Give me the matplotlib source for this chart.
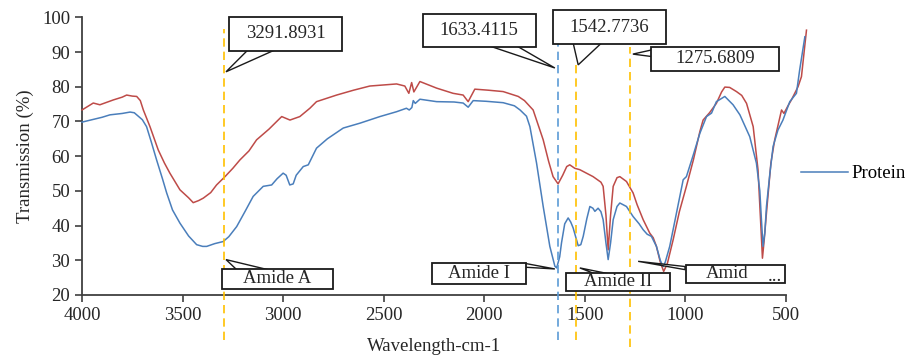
import matplotlib
matplotlib.use("Agg")
import matplotlib.pyplot as plt
from matplotlib.patches import Rectangle, Polygon

# FTIR spectra: wavenumber (cm-1) vs transmission (%)
protein_wn = [4000, 3950, 3900, 3861, 3800, 3761, 3740, 3728, 3700, 3679, 3655, 3629, 3600,
              3579, 3550, 3513, 3470, 3430, 3400, 3380, 3340, 3298, 3270, 3231, 3190, 3149,
              3099, 3057, 3030, 3000, 2985, 2967, 2950, 2935, 2900, 2875, 2834, 2780, 2701,
              2618, 2519, 2436, 2387, 2373, 2360, 2353, 2343, 2320, 2237, 2150, 2105, 2080,
              2055, 1990, 1906, 1850, 1822, 1790, 1773, 1740, 1707, 1674, 1649, 1640, 1625,
              1616, 1600, 1583, 1570, 1558, 1533, 1520, 1508, 1490, 1475, 1460, 1450, 1434,
              1420, 1409, 1395, 1384, 1372, 1359, 1340, 1326, 1293, 1260, 1230, 1210, 1190,
              1169, 1144, 1125, 1111, 1100, 1078, 1050, 1011, 995, 960, 928, 895, 870, 846,
              804, 763, 729, 680, 647, 630, 622, 614, 605, 597, 580, 564, 540, 515, 481, 448,
              432, 406]
protein_t = [69.8, 70.5, 71.2, 71.9, 72.3, 72.7, 72.5, 71.9, 70.5, 68.5, 64.0, 58.9, 53.5,
             49.4, 44.5, 40.7, 37.0, 34.5, 34.0, 34.0, 34.8, 35.4, 36.8, 39.7, 44.0, 48.4,
             51.3, 51.7, 53.5, 55.1, 54.5, 51.7, 52.0, 54.5, 57.0, 57.5, 62.3, 65.0, 68.1,
             69.5, 71.4, 72.8, 73.8, 73.3, 74.0, 76.0, 75.2, 76.4, 75.7, 75.6, 75.3, 74.1,
             76.0, 75.8, 75.4, 74.5, 73.3, 71.5, 68.5, 58.0, 45.5, 34.0, 28.3, 27.8, 31.0,
             35.0, 40.5, 42.2, 41.0, 39.3, 34.2, 34.5, 36.9, 42.0, 45.5, 45.0, 44.1, 45.0,
             44.0, 41.7, 35.0, 30.2, 35.0, 41.7, 45.5, 46.5, 45.5, 42.6, 40.5, 38.8, 37.5,
             36.9, 34.0, 30.0, 28.2, 29.5, 34.0, 42.0, 53.2, 54.1, 60.5, 66.6, 71.4, 72.4, 75.7,
             77.2, 74.8, 71.9, 65.6, 58.0, 50.0, 41.7, 34.0, 38.0, 45.5, 55.0, 62.8, 67.5, 70.4,
             75.7, 78.1, 84.8, 94.4]

sample_wn = [4000, 3944, 3911, 3844, 3800, 3778, 3750, 3728, 3710, 3695, 3662, 3621, 3590,
             3563, 3513, 3470, 3447, 3420, 3397, 3360, 3331, 3289, 3250, 3215, 3170, 3132,
             3070, 3016, 3007, 2966, 2917, 2867, 2834, 2734, 2650, 2569, 2436, 2395, 2375,
             2361, 2350, 2320, 2237, 2155, 2105, 2080, 2047, 1980, 1906, 1831, 1800, 1757,
             1707, 1680, 1658, 1633, 1610, 1590, 1575, 1550, 1525, 1459, 1420, 1409, 1395,
             1384, 1372, 1359, 1340, 1326, 1293, 1260, 1240, 1210, 1177, 1160, 1144, 1125,
             1108, 1090, 1061, 1030, 995, 960, 928, 912, 880, 846, 820, 804, 780, 746, 720,
             696, 663, 639, 625, 617, 608, 597, 575, 556, 522, 510, 490, 473, 440, 423, 398]
sample_t = [73.3, 75.3, 74.8, 76.2, 77.0, 77.6, 77.3, 77.2, 76.0, 73.3, 68.5, 61.8, 58.0,
            55.1, 50.3, 48.0, 46.6, 47.2, 47.9, 49.5, 51.7, 54.1, 56.5, 58.9, 61.5, 64.7,
            67.8, 70.9, 71.4, 70.4, 71.4, 73.8, 75.7, 77.6, 79.0, 80.2, 80.8, 80.2, 78.1,
            81.2, 78.5, 81.5, 79.6, 78.1, 77.6, 75.7, 79.3, 79.0, 78.6, 77.2, 76.0, 73.3,
            64.7, 58.5, 54.1, 52.0, 54.5, 57.0, 57.5, 56.5, 56.1, 54.1, 52.5, 51.3, 43.0,
            33.0, 43.0, 51.3, 53.8, 54.1, 52.7, 49.4, 46.0, 41.7, 37.8, 36.5, 34.0, 29.5,
            26.8, 29.0, 35.9, 44.0, 51.3, 59.0, 67.1, 70.4, 72.5, 75.2, 78.5, 79.9, 79.8,
            78.6, 77.5, 75.2, 68.5, 56.1, 40.0, 30.6, 36.0, 43.6, 58.0, 64.7, 73.3, 72.3,
            74.5, 76.2, 80.0, 82.9, 96.3]

# marked peaks: wavenumber, colour, dashed line extent (%)
peak_wn = [3291.8931, 1633.4115, 1542.7736, 1275.6809]
peak_color = ["#FFC000", "#5B9BD5", "#FFC000", "#FFC000"]
peak_top = [96.5, 94.0, 86.3, 91.5]
peak_bottom = [7.0, 7.0, 7.0, 4.9]

BLUE = "#4A7EBB"
RED = "#BE4B48"
FONT = "Liberation Serif"
FS = 13.5

plt.rcParams["font.family"] = [FONT, "DejaVu Serif"]

fig = plt.figure(figsize=(9.1, 3.59), dpi=100)
ax = fig.add_axes([0.0901, 0.1783, 0.7736, 0.7735])

ax.plot(sample_wn, sample_t, color=RED, lw=1.1, clip_on=False, zorder=3)
ax.plot(protein_wn, protein_t, color=BLUE, lw=1.1, clip_on=False, zorder=4, label="Protein")

for wn, c, top, bot in zip(peak_wn, peak_color, peak_top, peak_bottom):
    ax.plot([wn, wn], [bot, top], color=c, lw=1.2, ls=(0, (5, 3)), clip_on=False, zorder=5)

ax.set_xlim(4000, 500)
ax.set_ylim(20, 100)
ax.set_xticks([4000, 3500, 3000, 2500, 2000, 1500, 1000, 500])
ax.set_yticks(range(20, 101, 10))
ax.tick_params(labelsize=FS, direction="out", length=5, width=1.2, color="#404040",
               labelcolor="#262626")
for s in ["top", "right"]:
    ax.spines[s].set_visible(False)
for s in ["left", "bottom"]:
    ax.spines[s].set_color("#404040")
    ax.spines[s].set_linewidth(1.3)
ax.set_xlabel("Wavelength-cm-1", fontsize=FS, color="#262626")
ax.set_ylabel("Transmission (%)", fontsize=FS, color="#262626", labelpad=6)
ax.xaxis.set_label_coords(0.5, -0.155)

# Excel-style callouts: box (w_left, w_right, v_bottom, v_top), tip, two base points
callouts = [
    ("3291.8931", (3269, 2708, 90.3, 100.1), (3284, 84.3), [(3175, 90.6), (3041, 90.6)]),
    ("1633.4115", (2305, 1744, 91.5, 100.9), (1649, 85.4), [(1977, 91.8), (1840, 91.8)]),
    ("1542.7736", (1659, 1098, 92.3, 102.1), (1533, 86.3), [(1558, 92.6), (1417, 92.6)]),
    ("1275.6809", (1172, 536, 84.5, 91.5), (1261, 89.4), [(1168, 90.6), (1168, 88.7)]),
    ("Amide A", (3304, 2752, 21.8, 27.6), (3284, 30.2), [(3231, 27.3), (3076, 27.3)]),
    ("Amide I", (2260, 1793, 23.3, 29.3), (1649, 27.5), [(1797, 29.1), (1797, 28.0)]),
    ("Amide II", (1594, 1078, 21.2, 26.4), (1525, 27.8), [(1450, 26.1), (1380, 26.1)]),
    ("Amid", (998, 506, 23.5, 28.7), (1235, 29.7), [(1002, 28.2), (1002, 27.3)]),
]
for text, (w0, w1, v0, v1), tip, base in callouts:
    ax.add_patch(Polygon([tip] + base, closed=True, fc="white", ec="#1a1a1a", lw=1.0,
                         clip_on=False, zorder=6))
    ax.add_patch(Rectangle((w0, v0), w1 - w0, v1 - v0, fc="white", ec="#1a1a1a", lw=1.3,
                           clip_on=False, zorder=7))
    if text == "Amid":
        ax.text(w0 - 0.42 * (w0 - w1), (v0 + v1) / 2, text, fontsize=FS, ha="center",
                va="center", color="#262626", zorder=8)
        ax.text(w1 + 0.03 * (w0 - w1), (v0 + v1) / 2 - 0.8, "...", fontsize=FS, ha="right",
                va="center", color="#262626", zorder=8)
    else:
        ax.text((w0 + w1) / 2, (v0 + v1) / 2, text, fontsize=FS, ha="center", va="center",
                color="#262626", zorder=8)

ax.legend(loc="center left", bbox_to_anchor=(1.022, 0.436), frameon=False, fontsize=FS,
          handlelength=2.5, handletextpad=0.15, borderpad=0, borderaxespad=0)

fig.savefig("out.png", dpi=100)
